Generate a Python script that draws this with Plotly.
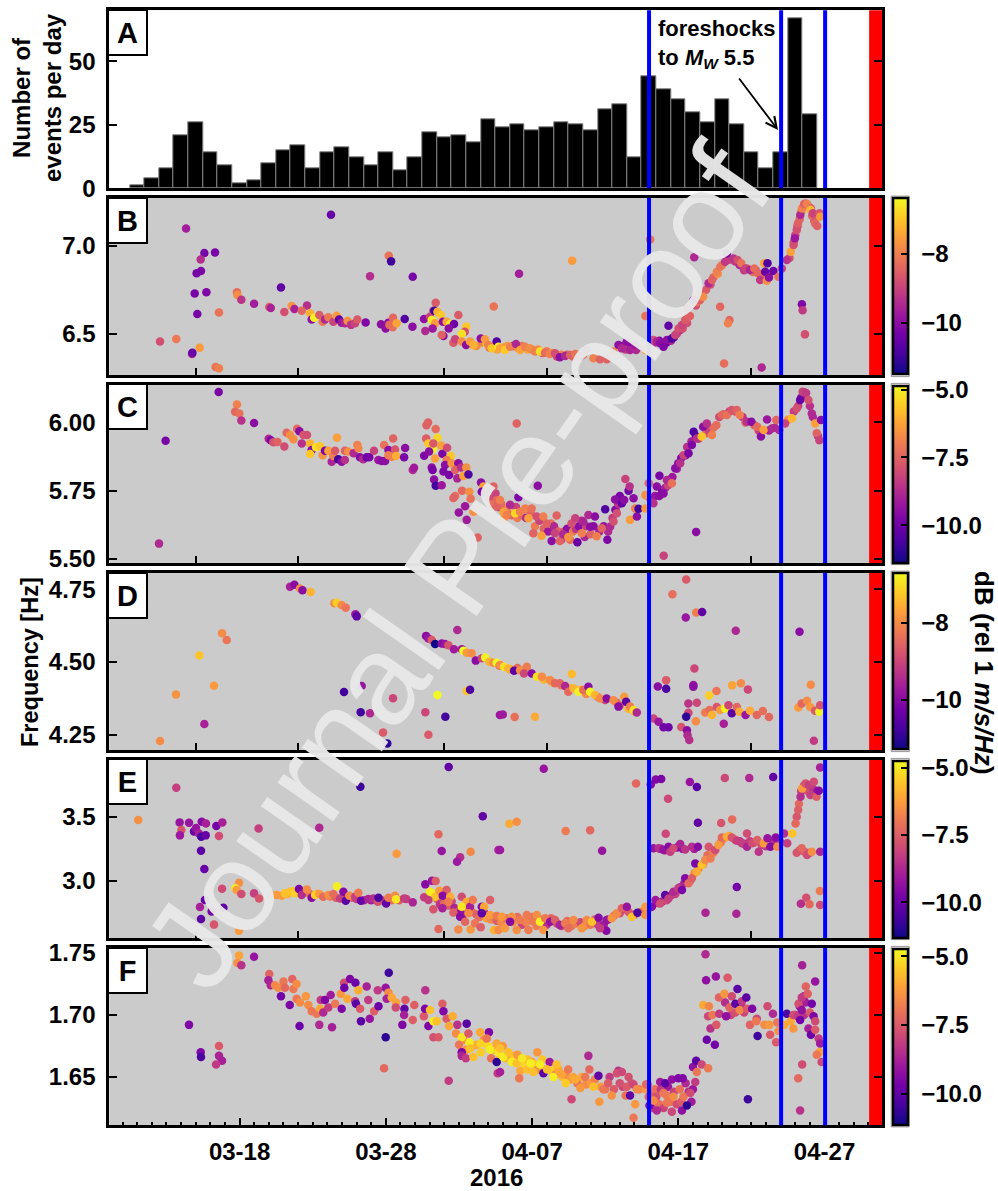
import plotly.graph_objects as go

# x values are day numbers counted from 1 March 2016 = 1 (so 1 April = 32)
bar_days = [11,12,13,14,15,16,17,18,19,20,21,22,23,24,25,26,27,28,29,30,31,32,33,34,35,36,37,38,39,40,41,42,43,44,45,46,47,48,49,50,51,52,53,54,55,56,57]
bar_counts = [1,4,8,21,26,14,9,2,3,10,15,17,8,14,16,12,9,14,7,12,22,20,21,18,27,24,25,23,24,26,25,23,31,33,12,44,39,35,30,26,35,25,14,8,14,67,29]
event_days = [46.0, 55.03, 58.04]
red_start = 61.05
major_days = [18,28,38,48,58]
major_labels = ["03-18","03-28","04-07","04-17","04-27"]
inner_ticks = [15,22,32,39,53]

b_day = [
33.9,34.2,34.6,34.9,35.1,35.4,35.6,36.0,36.3,36.7,
37,37.3,37.7,38,38.4,38.7,39,39.4,39.7,40,
40.4,40.8,41.1,41.5,44.2,44.4,44.8,45.2,46.4,46.7,
47,47.2,47.5,47.7,47.9,48.1,48.3,48.6,48.8,49.2,
49.3,49.6,49.9,50.2,50.4,50.7,51,51.5,51.9,52.2,
52.5,52.7,53.1,53.3,53.7,54,55.6,55.9,56,56.15,
56.3,56.4,56.55,56.7,56.95,57.15,57.3,
14.34,24.25,16.32,15.59,15.34,15.36,15.06,14.93,15.73,15.11,
16.59,12.56,13.67,15.27,14.75,14.77,16.36,16.59,17.82,17.85,
18.12,18.99,20.03,20.13,20.83,21.06,21.56,21.75,22.61,22.25,
22.82,22.93,23.1,23.45,23.68,23.84,24.07,24.41,24.64,24.8,
24.98,25.2,25.39,25.62,25.89,26.05,26.62,27.67,27.99,28.17,
28.24,28.47,28.49,28.74,28.2,28.36,26.92,29.84,29.29,29.82,
30.7,30.61,31.02,31.25,31.41,31.32,31.53,31.76,31.14,31.25,
31.37,31.2,31.9,32.16,32.4,32.66,32.3,31.94,31.82,32.96,
33.5,33.4,33.2,32.62,32.74,33.19,33.49,33.76,33.99,34.49,
34.78,35.38,35.01,35.24,35.58,35.7,40.74,37.11,35.81,36.15,
36.5,36.9,37.18,37.52,37.86,38.2,38.54,38.88,39.2,39.57,
39.9,40.26,40.6,40.95,41.7,41.28,42.2,42.65,43.11,43.57,
43.91,44.13,44.48,44.7,45.11,45.04,45.75,46.07,45.75,46.3,
46.54,46.76,46.99,47.22,47.33,47.56,47.79,48.02,48.25,48.47,
48.7,48.59,49.04,49.09,49.49,49.7,50.86,51.5,51.4,51.13,
53.7,50.07,50.3,50.63,50.87,51.2,51.32,51.77,52.05,52.3,
52.6,52.9,53.2,53.47,53.6,53.87,53.94,54.05,54.1,54.2,
54.5,54.85,55.08,55.42,55.69,55.88,55.97,56.1,56.18,56.34,
56.45,56.61,56.8,57.07,57.03,57.2,57.36,57.5,57.66,57.7,
56.45,56.5,56.66]
b_freq = [
6.44,6.43,6.45,6.44,6.42,6.43,6.41,6.42,6.43,6.43,
6.42,6.43,6.41,6.41,6.41,6.39,6.40,6.39,6.37,6.38,
6.38,6.37,6.38,6.38,6.43,6.41,6.43,6.42,6.45,6.46,
6.44,6.45,6.46,6.48,6.5,6.52,6.53,6.56,6.6,6.66,
6.68,6.72,6.75,6.78,6.82,6.84,6.89,6.92,6.91,6.89,
6.86,6.87,6.85,6.86,6.82,6.83,6.93,7.02,7.06,7.11,
7.15,7.19,7.22,7.24,7.22,7.17,7.14,
7.098,7.176,6.962,6.958,6.922,6.856,6.843,6.729,6.735,6.612,
6.621,6.455,6.47,6.42,6.384,6.392,6.311,6.303,6.735,6.72,
6.693,6.67,6.652,6.646,6.763,6.623,6.657,6.64,6.66,6.63,
6.616,6.58,6.59,6.606,6.568,6.58,6.593,6.568,6.602,6.58,
6.562,6.559,6.572,6.55,6.559,6.58,6.564,6.553,6.53,6.562,
6.55,6.536,6.591,6.559,6.943,6.911,6.826,6.824,6.583,6.54,
6.515,6.583,6.596,6.63,6.676,6.63,6.625,6.606,6.578,6.568,
6.559,6.53,6.568,6.568,6.555,6.555,6.53,6.487,6.492,6.606,
6.54,6.511,6.5,6.449,6.468,6.455,6.436,6.455,6.434,6.473,
6.468,6.655,6.436,6.417,6.455,6.426,6.915,6.841,6.417,6.407,
6.426,6.441,6.407,6.426,6.417,6.398,6.398,6.392,6.384,6.388,
6.366,6.373,6.379,6.384,6.407,6.369,6.36,6.354,6.354,6.398,
6.436,6.417,6.455,6.407,6.407,6.436,6.6,7.036,6.407,6.464,
6.455,6.445,6.426,6.464,6.545,6.473,6.492,6.53,6.549,6.578,
6.596,6.644,6.691,6.934,6.691,6.71,6.653,6.578,6.559,6.33,
6.307,6.786,6.805,6.852,6.881,6.909,6.956,6.928,6.919,6.9,
6.871,6.862,6.871,6.843,6.805,6.9,6.852,6.801,6.9,6.82,
6.856,6.824,6.871,6.919,6.966,7.004,7.042,7.089,7.127,7.174,
7.212,7.237,7.237,7.212,7.205,7.184,7.127,7.112,7.184,7.165,
6.667,6.633,6.496]
b_db = [
-7.5,-7.8,-8,-7,-8.3,-7.7,-7.5,-8,-7.6,-9.6,
-7.8,-8.2,-7.5,-8.2,-7.8,-8.6,-8,-7.8,-9,-8,
-8.6,-8.5,-7.7,-8.3,-10,-9.2,-10.2,-9.8,-9.5,-10.2,
-9.8,-10.7,-9.5,-10.4,-9,-9.3,-8.8,-8.8,-8.4,-8.8,
-8.2,-8.3,-8.6,-8.8,-8.4,-7.8,-8.1,-9,-9.2,-9.5,
-9.2,-8.3,-8.3,-8.9,-8.6,-8.3,-8.8,-8.7,-9,-8.9,
-8.4,-8,-8.3,-8.5,-9,-8.4,-8.6,
-9.7,-10.5,-10.3,-10.3,-9.4,-10.2,-10.3,-10.3,-10.2,-10.3,
-8.2,-8.8,-8.1,-7.6,-9.5,-10.5,-8.2,-8,-8.3,-7.8,
-9.3,-9.7,-8.6,-9.6,-10.6,-8.8,-7.7,-9.6,-9.4,-8.4,
-7.3,-10,-6.5,-8.6,-8.1,-9.5,-8.1,-9,-7.6,-10.6,
-9.8,-9.5,-7.8,-9.3,-9,-8.6,-10.2,-10,-10,-10,
-8.3,-8.3,-8.4,-7.5,-8.2,-11,-9.4,-10.3,-10.8,-10,
-9.5,-10,-9,-9,-8.6,-11,-7.3,-7,-6.5,-6.6,
-7.6,-9.8,-10,-7.5,-6.6,-10.4,-10,-10,-8.5,-8.6,
-7,-8.8,-6.7,-8.6,-9,-7.8,-10,-7.6,-7.3,-10,
-7.6,-8.2,-8,-7,-10.8,-6.6,-7.6,-9.7,-7.5,-7,
-8,-9.5,-7.5,-8,-7.8,-8,-6.7,-8.3,-8,-8.8,
-10,-9.5,-8.5,-8.2,-9.3,-9,-8,-8.5,-8.5,-8,
-10,-9.5,-10,-9.6,-9.5,-9.8,-8.2,-8.2,-7.5,-8.8,
-9.6,-10,-10.2,-10,-10.6,-10.8,-9,-8.8,-9,-8.6,
-8.5,-8.4,-10,-9.5,-8.5,-7.8,-8.4,-8.4,-8,-8.3,
-9.5,-9.5,-8.5,-8,-8.2,-9.2,-10.2,-9.3,-8.8,-8.2,
-9,-9.5,-8.3,-8.4,-9.2,-7.5,-10.5,-7.8,-10.8,-10,
-10.4,-8.2,-9,-9.3,-7.5,-8.8,-9.8,-8.8,-8.5,-9.5,
-8,-8.5,-8,-8.6,-7.2,-9,-8.4,-8.5,-8.7,-7.6,
-10.2,-9.2,-8.8]

c_day = [
34.9,35.1,35.3,35.5,35.7,35.9,36.1,36.3,36.6,36.9,
37,37.3,37.6,37.9,38.2,38.5,38.8,39.1,39.3,39.5,
39.8,40,40.2,40.4,40.6,40.8,41,41.2,41.4,41.6,
41.7,42,42.2,42.6,42.9,43.2,43.5,43.7,43.9,44,
44.6,45.9,46.1,46.4,46.7,46.9,47.1,47.3,47.4,47.6,
47.9,48,48.2,48.5,48.6,48.9,49.2,49.4,49.9,50.1,
50.4,50.8,51.1,51.5,51.9,52.4,52.6,53.2,53.5,54.2,
54.6,55.5,55.9,56.2,56.4,56.6,57,57.2,57.55,
12.94,12.49,16.57,17.82,17.69,17.98,18.12,18.99,19.99,20.13,
20.31,20.59,21.06,21.22,21.45,21.68,21.93,22.09,22.25,22.37,
22.61,22.82,22.93,22.82,23.23,23.5,23.68,23.84,24.07,24.3,
24.41,24.53,24.66,24.75,24.98,25.2,25.2,25.43,25.8,26.05,
26.12,26.23,26.46,26.7,26.87,27.19,27.49,27.72,27.95,27.88,
28.18,28.18,28.5,28.63,28.4,28.7,29.25,29.32,29.84,29.93,
30.62,30.76,30.78,30.89,31.41,31.53,31.2,30.91,31.25,30.96,
31.37,31.14,31.2,31.3,31.41,31.82,31.87,31.78,32.19,32.44,
32.16,32.05,31.94,32.33,32.5,32.96,32.74,33.15,33.5,32.89,
33.3,33.65,33.21,33.71,33.8,32.74,32.62,33.42,32.99,33.53,
33.99,34.28,34.51,34.67,34.56,35.36,35.58,35.58,38.39,36.95,
37.07,35.81,36.04,36.27,36.5,36.84,37.18,37.52,37.97,37.75,
38.09,38.31,38.65,38.77,39,39.68,39.34,39.57,39.9,40.14,
40.48,40.7,40.95,41.1,41.4,41.5,41.85,41.97,42.3,42.42,
42.77,43,43.15,43.34,43.57,43.8,43.68,44.14,44.3,44.38,
44.67,44.94,44.7,45.05,45.17,45.28,45.75,45.75,45.98,46.3,
46.53,46.71,46.99,47.22,47.56,47.79,48.13,48.36,48.7,48.93,
49.05,49.22,47,49.27,49.6,49.7,49.95,50.3,50.6,50.98,
51.32,51.66,52,52.2,52.7,53,53.4,53.65,53.83,54.07,
54.4,54.7,54.9,55.3,55.77,56.1,56.33,56.5,56.74,56.9,
57.13,57.36,57.47,57.65,57.76]
c_freq = [
5.74,5.72,5.7,5.74,5.69,5.7,5.65,5.68,5.66,5.69,
5.65,5.66,5.65,5.67,5.62,5.64,5.61,5.6,5.63,5.62,
5.6,5.57,5.6,5.61,5.57,5.6,5.61,5.62,5.64,5.58,
5.62,5.59,5.62,5.6,5.62,5.6,5.65,5.68,5.7,5.73,
5.75,5.73,5.72,5.73,5.73,5.75,5.76,5.77,5.79,5.8,
5.83,5.85,5.87,5.88,5.91,5.93,5.95,5.94,5.96,5.97,
5.98,6.02,6.03,6.04,6.04,6.02,6.0,5.99,5.97,5.97,
5.98,6.01,6.04,6.06,6.09,6.11,6.06,6.02,5.95,
5.933,5.556,6.111,6.066,6.039,6.033,6.007,5.998,5.94,5.935,
5.927,5.928,5.912,5.962,5.954,5.938,5.977,5.968,5.923,5.954,
5.954,5.923,5.899,5.884,5.909,5.913,5.88,5.896,5.896,5.856,
5.877,5.896,5.944,5.865,5.856,5.896,5.862,5.893,5.887,5.917,
5.905,5.872,5.865,5.872,5.872,5.896,5.862,5.859,5.859,5.917,
5.899,5.88,5.941,5.901,5.874,5.877,5.872,5.906,5.826,5.834,
5.878,5.941,5.99,6.0,5.976,5.944,5.902,5.923,5.923,5.893,
5.868,5.835,5.826,5.791,5.768,5.77,5.885,5.915,5.907,5.877,
5.862,5.844,5.82,5.807,5.85,5.85,5.826,5.835,5.835,5.795,
5.804,5.809,5.75,5.746,5.72,5.73,5.723,5.693,5.67,5.643,
5.673,5.578,5.78,5.765,5.746,5.765,5.716,5.691,5.768,5.996,
5.726,5.716,5.673,5.661,5.698,5.667,5.673,5.685,5.685,5.649,
5.594,5.655,5.585,5.655,5.63,5.659,5.566,5.594,5.566,5.59,
5.58,5.63,5.649,5.561,5.594,5.637,5.661,5.618,5.655,5.583,
5.612,5.682,5.57,5.618,5.637,5.667,5.718,5.704,5.716,5.793,
5.765,5.722,5.643,5.685,5.655,5.684,5.685,5.734,5.777,5.704,
5.765,5.805,5.74,5.789,5.777,5.832,5.85,5.88,5.887,5.917,
5.966,5.599,5.512,5.941,5.948,5.984,5.996,5.954,5.99,6.027,
6.027,6.045,6.045,6.027,6.002,6.002,5.984,5.948,5.972,6.011,
5.978,6.009,5.972,5.996,6.015,6.051,6.082,6.112,6.108,6.082,
6.033,5.996,5.96,5.935,6.009]
c_db = [
-7.5,-8,-7.2,-8.2,-10,-7.3,-6.5,-6.9,-7.5,-8.2,
-7,-7.3,-8.8,-7.5,-7,-8.2,-7.5,-9.2,-7.2,-8.8,
-7.5,-8.2,-7.9,-9.5,-7.2,-7,-8.5,-9.5,-8.8,-8.9,
-8.2,-7.5,-9.5,-9,-9.3,-8.8,-8.4,-9.7,-8.6,-9.8,
-10,-7,-8.2,-9.2,-9.5,-9.8,-9,-8.2,-8.4,-9.2,
-9,-9.5,-9.7,-9.5,-8.6,-9,-9.8,-8,-7.5,-8.2,
-7.3,-8,-7.5,-8.2,-7.8,-8.4,-7.6,-7.5,-8.2,-9,
-8.8,-6.6,-8.3,-8.2,-9.5,-8.5,-8.6,-8.8,-8.5,
-9.8,-8.8,-9.8,-6.9,-7.4,-7.2,-8.6,-9.5,-8.8,-9.7,
-7.8,-7.5,-8,-7.4,-6.6,-6.6,-7.4,-9.5,-8.6,-7.8,
-7.9,-6,-9.5,-5.6,-5.2,-5.6,-6.5,-9.7,-6.3,-8.9,
-6.9,-7.7,-6.3,-10.7,-9.5,-7.5,-8.6,-6.6,-8.8,-6.9,
-6.8,-9.5,-8.8,-10,-9.8,-8.2,-9.2,-9.5,-9.5,-7.2,
-9.5,-6.9,-7.5,-7.8,-6.9,-6.1,-9.8,-9.5,-8.8,-9.1,
-9.7,-7.6,-7.5,-7.5,-7.3,-5.4,-4.9,-5.6,-7.7,-9.5,
-6.3,-9.5,-9.8,-9.5,-10.7,-9.2,-9.8,-6.3,-8,-5.6,
-6.9,-9.5,-9.7,-9.8,-6.5,-9.5,-7.5,-8.6,-6.6,-8.9,
-6.3,-10.5,-7.4,-6.6,-7.2,-7.3,-7.5,-9.2,-9.3,-9.1,
-6.6,-7.5,-9.5,-6.3,-9.7,-7.5,-7.4,-7.5,-9.5,-7.5,
-9.7,-6.9,-6.3,-6.9,-8.8,-5.4,-6.9,-6.9,-7.2,-6.3,
-7.5,-7.9,-6.3,-6.9,-7.5,-7.5,-9.5,-8.2,-7.5,-8.8,
-6.5,-7.9,-8.2,-10.1,-6.9,-8.9,-8.8,-9.5,-9.5,-6.9,
-7.5,-10.5,-9.7,-8.8,-7.9,-7.9,-9.5,-10.1,-9.5,-8.2,
-8.6,-9.5,-6.4,-6.9,-9.5,-10.7,-6.4,-6.6,-7.5,-8.6,
-9.5,-9.8,-9.5,-8.8,-7.2,-9.5,-8.6,-8.2,-9.8,-9.7,
-10.5,-9.5,-8.2,-8.6,-5.6,-9.5,-8.6,-6.9,-7.3,-7.4,
-7.2,-7.8,-7.5,-6.9,-8.6,-9.5,-7.3,-9.5,-6.3,-9.2,
-8.8,-7.4,-8.8,-8.2,-5.9,-7.9,-10.1,-8.2,-8.4,-7.9,
-8.8,-6.3,-7.5,-8.2,-9.5]

d_day = [
36.5,37,38.8,39.4,40,40.6,41.3,41.7,42.5,43,
43.8,44,44.6,45,
12.56,13.65,15.25,15.59,16.25,16.8,17.12,21.45,21.75,22.13,
22.3,22.86,24.48,24.64,24.98,25.26,25.92,26.01,25.14,26.28,
26.92,28.49,27.81,28.1,26.35,30.75,30.91,31.14,31.37,31.82,
32.05,32.28,32.66,32.89,33.2,33.3,33.53,33.87,34.15,34.56,
34.79,35.08,35.36,35.58,35.77,31.53,33.53,33.76,30.7,32.07,
30.91,35.8,36,36.81,38.2,40.72,35.81,36.08,36.38,36.77,
37.18,37.64,37.45,37.98,38.33,38.67,39.24,39.57,39.9,40.26,
40.48,40.83,41.17,41.5,41.85,41.97,42.3,42.65,43.1,43.57,
43.91,44.3,44.43,44.7,44.94,45.16,46.3,46.65,46.99,47.33,
46.6,47.17,47.17,47.6,48.54,48.51,49.22,49.63,51.93,56.29,
49.1,49.03,49.03,50.61,50.11,51.68,52.28,52.76,57.06,48.69,
49.27,48.69,48.54,49.2,48.2,48.59,48.63,48.75,51.11,49.84,
50.13,50.3,50.63,50.85,51.2,51.43,51.66,52,52.18,52.6,
52.9,53.37,53.78,54.2,56.21,56.44,56.8,57.02,57.35,57.64,
57.7,57.27]
d_freq = [
4.475,4.48,4.44,4.43,4.42,4.41,4.405,4.39,4.38,4.37,
4.36,4.35,4.34,4.33,
4.229,4.389,4.523,4.287,4.419,4.599,4.576,4.759,4.766,4.753,
4.747,4.741,4.702,4.704,4.696,4.687,4.664,4.657,4.397,4.328,
4.324,4.376,4.258,4.22,4.418,4.59,4.581,4.576,4.562,4.564,
4.562,4.558,4.544,4.61,4.544,4.539,4.532,4.53,4.505,4.513,
4.516,4.501,4.498,4.498,4.487,4.387,4.401,4.405,4.328,4.312,
4.25,4.318,4.32,4.311,4.312,4.459,4.49,4.484,4.478,4.47,
4.472,4.484,4.461,4.461,4.45,4.45,4.438,4.427,4.427,4.418,
4.398,4.41,4.398,4.404,4.415,4.398,4.387,4.375,4.375,4.369,
4.347,4.381,4.364,4.347,4.335,4.327,4.306,4.295,4.276,4.276,
4.416,4.438,4.408,4.733,4.784,4.653,4.67,4.672,4.608,4.604,
4.478,4.421,4.415,4.401,4.385,4.42,4.427,4.406,4.422,4.358,
4.36,4.326,4.312,4.297,4.277,4.266,4.249,4.232,4.288,4.327,
4.335,4.318,4.346,4.335,4.341,4.352,4.324,4.346,4.329,4.318,
4.333,4.318,4.332,4.311,4.344,4.358,4.367,4.346,4.333,4.329,
4.352,4.23]
d_db = [
-8,-8.5,-7.5,-7.6,-8.2,-7.5,-7.5,-8,-8.3,-9,
-8.5,-8.5,-7.5,-7.6,
-8,-7.9,-7.3,-9.6,-7.8,-8,-8.3,-9.6,-10,-8,
-10,-7.5,-8,-7.2,-8,-8.3,-9.8,-10.5,-10.8,-10.8,
-9.5,-9,-8.7,-11,-9.8,-10,-9.8,-8.7,-11.5,-10,
-9.8,-8.8,-9.7,-9.5,-9.8,-6.5,-7.8,-8,-10,-9,
-6.8,-7.5,-8,-6.5,-8.3,-6.6,-7.3,-10.7,-9,-10.8,
-8.7,-9.8,-9.7,-8.4,-7.6,-7.4,-8,-7,-7.5,-10.5,
-8,-8.2,-9,-10,-7,-8,-8,-8.5,-8.5,-9.5,
-8.5,-7.5,-6.8,-8.4,-10,-6.8,-7.5,-8,-10,-8,
-10,-7.8,-10.5,-8.2,-7,-9.5,-9,-9.8,-10.3,-10.3,
-10,-8.7,-10.7,-8.4,-8.7,-9.8,-8.2,-10.5,-9.5,-10,
-9,-9.8,-10,-8.3,-7.2,-7.7,-8,-9,-8,-9.3,
-9,-9,-11,-8,-8.8,-10,-9.5,-9.4,-9.6,-8.2,
-8.4,-7.5,-8.8,-7.8,-6.8,-9,-10.5,-8.5,-7.6,-9.8,
-7.6,-8.5,-8.4,-8.5,-7.8,-8.5,-8,-7.8,-8.7,-6.8,
-8.8,-9.2]

e_day = [
20.2,21.3,21.6,22.4,22.8,23.3,24.2,24.6,25.3,25.7,
26,26.5,27,27.7,28.4,28.9,29.4,31.5,31.7,32,
32.3,32.5,32.7,32.9,33.1,33.3,33.6,33.9,34.2,34.4,
34.7,34.9,35.2,35.4,35.6,35.9,36.2,36.7,37,37.3,
37.6,38,38.3,38.6,39,39.3,39.7,40,40.4,40.7,
41,41.3,41.6,42,42.3,42.5,42.9,43.2,43.6,44,
44.3,44.6,45,45.4,46,46.6,46.9,47.2,47.5,47.8,
48.1,48.4,48.8,49.1,49.4,49.7,50,50.4,50.9,51.1,
51.5,51.9,52.2,52.5,52.9,53.2,53.7,54,54.5,55,
56.1,56.25,56.4,56.6,56.85,57.2,57.5,46.8,47.1,47.9,
48.3,49.1,56.3,56.6,57,
11.07,13.67,13.9,14.54,14.02,13.92,14.88,15.02,15.41,15.7,
15.22,15.38,15.68,16.41,16.82,16.59,15.36,15.59,15.63,15.29,
16.09,16.89,15.36,16.25,16.8,17.96,17.96,17.71,17.8,18.12,
18.99,19.33,19.3,23.45,26.26,32.3,34.63,31.6,31.82,28.74,
33.08,32.87,33.8,35.7,20.54,20.88,21.1,21.45,21.79,22.06,
22.25,22.6,22.93,23.16,23.45,23.72,24.07,24.41,24.66,24.87,
25.1,25.26,25.5,25.9,26.12,26.3,26.8,27.15,27.45,27.5,
28.02,28.18,28.63,28.7,29.25,29.84,30.62,30.7,31.02,31.16,
31.41,31.18,31.37,30.91,31.25,31.66,31.87,32.16,31.89,32.4,
32.28,32.62,31.6,32.96,33.19,33.08,33.53,33.19,33.42,33.76,
33.95,33.65,33.8,34.1,34.49,34.56,34.72,34.56,35.13,35.13,
35.4,35.58,35.7,38.8,36.45,36.95,40.3,41.97,42.79,35.81,
45.11,46.12,46.46,46.83,48.79,49.27,47.3,49.34,47.14,50.93,
51.68,51.18,52.85,54.49,57.7,52,49.86,51.97,43.08,56.38,
56.75,56.97,57.68,57.7,46.3,46.65,46.99,47.33,47.45,47.67,
48.13,48.47,48.93,49.34,50.08,35.93,36.15,36.61,36.5,36.95,
37.18,37.64,37.75,38.09,38.33,38.54,38.77,38.9,39.24,39.57,
39.9,40.26,40.48,40.83,41.4,41.75,42.1,42.55,42.65,43.1,
43.45,43.8,44.14,44.48,44.83,45.21,45.75,45.75,46.19,46.44,
46.76,47.1,47.33,47.67,48,48.25,48.47,48.7,48.93,49.16,
49.27,49.6,49.84,50.2,50.53,50.75,50.98,51.32,51.66,52,
52.35,52.7,52.7,53.05,53.4,53.5,53.85,54.1,54.3,54.66,
54.77,55.23,55.45,55.8,56.02,56.2,56.36,56.47,56.7,56.93,
57.27,57.04,57.45,57.61,56.1,56.44,56.8,57.13,57.7]
e_freq = [
2.89,2.9,2.92,2.91,2.9,2.9,2.88,2.87,2.88,2.87,
2.86,2.85,2.85,2.85,2.85,2.85,2.86,2.86,2.82,2.83,
2.81,2.84,2.79,2.76,2.75,2.74,2.79,2.76,2.74,2.72,
2.76,2.71,2.7,2.72,2.69,2.68,2.71,2.68,2.72,2.66,
2.68,2.72,2.65,2.7,2.66,2.71,2.67,2.65,2.69,2.65,
2.67,2.68,2.65,2.66,2.7,2.66,2.66,2.7,2.73,2.75,
2.78,2.76,2.74,2.76,2.79,2.83,2.84,2.85,2.89,2.9,
2.95,2.98,3.0,3.06,3.1,3.13,3.2,3.22,3.3,3.33,
3.35,3.32,3.31,3.29,3.31,3.3,3.28,3.27,3.3,3.3,
3.5,3.6,3.7,3.74,3.7,3.72,3.7,3.25,3.24,3.26,
3.25,3.25,3.24,3.23,3.22,
3.474,3.725,3.456,3.453,3.396,3.355,3.386,3.412,3.461,3.448,
3.37,3.345,3.355,3.427,3.456,3.35,3.236,3.093,2.852,2.798,
2.764,2.793,2.705,2.661,2.94,2.614,2.987,2.943,2.93,2.899,
2.904,2.865,3.409,3.415,3.733,3.886,3.503,3.363,3.233,3.212,
3.184,3.15,3.228,3.241,2.891,2.886,2.904,2.917,2.904,2.938,
2.891,2.935,2.87,2.891,2.899,2.878,2.891,2.899,2.959,2.865,
2.917,2.847,2.886,2.878,2.909,2.847,2.86,2.865,2.839,2.87,
2.826,2.87,2.886,2.858,2.865,2.834,2.873,2.974,2.917,3.003,
3.0,2.904,2.878,2.852,2.78,2.925,2.788,2.93,2.886,2.878,
2.839,2.756,2.627,2.624,2.878,2.723,2.839,2.8,2.684,2.8,
2.852,2.749,2.624,2.671,2.64,2.8,2.8,2.749,2.852,2.736,
2.619,2.728,2.619,3.873,3.446,3.461,3.389,3.394,3.236,3.241,
3.759,3.751,3.79,3.793,3.77,3.731,3.64,3.453,3.368,3.451,
3.479,3.801,3.801,3.808,3.883,2.953,2.754,2.746,2.614,2.824,
2.87,2.819,2.922,2.813,3.254,3.254,3.241,3.267,3.228,3.254,
3.288,3.246,3.267,3.267,3.267,2.723,2.632,2.723,2.684,2.619,
2.697,2.736,2.619,2.684,2.736,2.684,2.619,2.71,2.684,2.697,
2.658,2.671,2.632,2.697,2.632,2.697,2.684,2.715,2.632,2.697,
2.71,2.749,2.788,2.8,2.723,2.754,2.8,2.736,2.8,2.852,
2.826,2.891,2.865,2.917,2.943,2.93,3.021,2.982,3.021,3.137,
3.073,3.124,3.163,3.176,3.241,3.28,3.339,3.345,3.339,3.313,
3.293,3.37,3.267,3.293,3.319,3.228,3.293,3.332,3.267,3.339,
3.267,3.37,3.293,3.37,3.448,3.552,3.655,3.72,3.759,3.746,
3.772,3.668,3.655,3.702,3.22,3.254,3.202,3.228,3.228]
e_db = [
-6.5,-6,-5.5,-6.9,-7.2,-6.3,-6.9,-7.5,-8,-7.5,
-8.3,-8.8,-9,-8.5,-7,-7.5,-8.2,-7.2,-8.4,-7.3,
-7.5,-8,-8.8,-8,-9.5,-9.2,-6.6,-7,-7.5,-7.2,
-8.5,-6.3,-6.6,-6.9,-7.5,-6.6,-7,-6.5,-7.2,-8,
-6.8,-7,-6.9,-6.6,-8.5,-7.3,-7.9,-8.2,-7.2,-7,
-6.9,-8,-6.5,-7,-7.8,-8.2,-9,-8.8,-7,-7.7,
-8.2,-7.6,-8,-7,-9,-8.6,-8.8,-8,-8.8,-8.2,
-9.5,-8.8,-7.5,-6.5,-6.9,-6.5,-7.2,-6.9,-6.9,-6.8,
-6.3,-7.5,-8.6,-8.8,-8.2,-7.5,-7.9,-8.4,-8.6,-8.4,
-7.7,-7.3,-8.2,-8.6,-7.8,-8.4,-9,-9.5,-9,-9.7,
-9.3,-9,-7.7,-7.5,-8.2,
-6.5,-8.2,-9.2,-9.2,-7.7,-9.1,-10,-9.2,-9.5,-8.9,
-8.9,-10.5,-10,-9.8,-8.9,-7.9,-10.2,-10,-10,-8.9,
-9.8,-10.2,-10.2,-7.7,-7.9,-6.3,-6.5,-5,-6.3,-7.9,
-8.2,-7.7,-8.2,-8.7,-10.7,-10.1,-10.1,-7.3,-9.2,-6.3,
-8.6,-9.1,-6.6,-8.9,-6.3,-6.3,-5.6,-5.6,-5.4,-9.7,
-8.6,-6.6,-9.5,-5.4,-6.3,-7.2,-6.5,-7.2,-4.9,-8.2,
-9.5,-10.2,-6.6,-8.2,-6.9,-10,-8.8,-8.6,-7.8,-10.5,
-10.1,-6.9,-6.6,-5,-8.2,-8.8,-8.2,-9.5,-5,-9.2,
-7.5,-4.9,-5.6,-8.2,-7.7,-6.3,-8.9,-7.5,-9.5,-6,
-6.9,-7.5,-7.3,-6.6,-7.9,-9.5,-6,-5,-7.3,-8.9,
-6.9,-6.6,-6.3,-7,-7.5,-9.5,-6.1,-10.2,-7.5,-6.3,
-5.9,-6.9,-6.6,-9.2,-6,-6.5,-6.9,-7.3,-9.2,-9.1,
-7.3,-9.5,-9.6,-9.7,-9.2,-10.2,-8,-10.1,-8,-7.7,
-7.2,-8,-8.7,-10.1,-8.9,-9.8,-8.8,-8.8,-9.5,-8.6,
-7.8,-7.3,-6.9,-7.9,-9.2,-8.6,-9.2,-9.5,-8.2,-7.9,
-8.8,-8.4,-8.6,-9.5,-7.7,-6.3,-6.3,-6.5,-9.5,-6.5,
-6.9,-6.9,-6.9,-6.9,-6.5,-4.9,-6.4,-6.9,-9.3,-7.5,
-8.9,-6.9,-7.2,-6.6,-6.4,-6.6,-5.6,-9.5,-8.2,-9.2,
-6.4,-6.6,-7.4,-9.2,-5.6,-10.5,-6.3,-6.5,-9.5,-9.1,
-7.9,-10.2,-8.2,-8.7,-8.2,-9.7,-9.5,-7.2,-7.5,-9.7,
-6,-5.6,-6.6,-6.9,-7.9,-6.3,-7.3,-6,-7.7,-8.2,
-8.2,-7.9,-8.8,-7.9,-7.5,-8.4,-6.3,-9.2,-9.5,-9.5,
-6.6,-8.6,-8.2,-5.6,-7.3,-7.5,-8.6,-6.3,-7.7,-8.2,
-7.9,-8.2,-7.5,-9.5,-7.7,-7.3,-7.9,-6.5,-8.8]

f_day = [
33.3,33.5,33.9,34.2,34.5,34.7,35,35.2,35.4,35.8,
36,36.2,36.5,36.8,37,37.2,37.5,37.7,38,38.2,
38.4,38.7,39,39.3,39.6,39.8,40.1,40.3,40.6,40.8,
41.1,41.4,41.7,42,42.3,42.7,43,43.3,43.6,43.9,
44.2,44.4,44.8,45.3,45.9,46.1,46.2,46.4,46.5,46.7,
46.8,47,47.2,47.3,47.5,47.7,47.9,48.1,48.2,48.5,
48.7,48.9,49,51.2,51.6,51.9,52.3,52.5,56,56.3,
56.6,56.7,56.6,57,
14.54,15.34,15.36,16.59,16.59,16.8,16.39,17.96,17.85,18.12,
18.99,20.03,19.97,20.13,20.42,20.83,20.65,21,21.1,21.43,
21.6,21.68,21.9,21.9,22.1,22.13,22.53,22.7,22.93,23.45,
23.27,23.55,23.5,23.72,23.84,24.23,24.07,24.32,24.53,24.92,
24.98,25.14,25.16,25.37,25.55,25.92,25.9,25.96,26.12,26.24,
26.3,26.8,26.69,26.9,27.2,27.45,27.5,27.99,28.2,27.99,
27.88,28.18,28.06,28.4,28.7,28.68,29.27,29.25,29.34,29.13,
29.95,29.84,30.7,30.6,30.68,31.02,30.91,31.25,31.48,31.25,
31.6,31.87,31.94,32.16,32.33,32.57,32.3,32.89,33.53,32.8,
33.19,33.65,33.01,33.72,33.19,33.19,33.47,33.99,33.76,34.45,
34.49,35.05,34.9,35.13,35.58,35.58,35.65,35.7,35.81,35.81,
36.04,36.38,36.61,36.95,37.12,37.32,37.66,37.89,38.1,38.36,
38.55,38.78,39.2,39.03,39.46,39.68,40.03,40.3,40.47,40.7,
40.95,41.3,41.63,41.85,41.92,42.2,42.54,42.6,42.88,43.2,
43.45,43.8,44,44.14,44.48,44.7,44.6,44.94,45.05,44.94,
45.17,45.75,45.8,45.98,46.03,46.3,46.53,46.76,46.99,47.1,
47.22,47.56,47.56,47.67,48,48.25,48.36,48.3,48.59,48.82,
49.16,49,49.22,49.27,49.6,50.04,49.86,49.9,50.57,51.37,
49.95,50.5,49.7,50.1,50.04,50.33,50.2,50.6,50.8,50.78,
51.15,51.27,51.5,51.66,51.9,52.05,52.2,52.35,52.65,52.7,
53.05,52.9,53.37,53.33,53.42,52.76,53.89,54.23,54.28,54.1,
54.47,54.69,54.85,54.77,55.25,55.42,55.69,55.87,55.87,56.17,
56.22,56.33,56.44,56.44,56.47,56.72,56.85,56.9,57.13,57.25,
57.36,57.07,57.36,57.36,57.6,57.7,57.66,57.47,57.8,56.47,
56.2,56.33]
f_freq = [
1.68,1.672,1.675,1.676,1.67,1.68,1.675,1.665,1.672,1.668,
1.675,1.665,1.668,1.665,1.668,1.655,1.66,1.664,1.662,1.66,
1.656,1.664,1.656,1.655,1.652,1.656,1.65,1.652,1.648,1.65,
1.645,1.65,1.644,1.645,1.648,1.642,1.64,1.65,1.64,1.655,
1.642,1.635,1.645,1.64,1.644,1.638,1.625,1.64,1.634,1.628,
1.64,1.625,1.635,1.642,1.63,1.638,1.628,1.64,1.63,1.645,
1.638,1.63,1.64,1.71,1.7,1.702,1.708,1.702,1.70,1.707,
1.7,1.71,1.715,1.702,
1.692,1.67,1.666,1.675,1.667,1.663,1.66,1.748,1.742,1.74,
1.747,1.733,1.728,1.724,1.724,1.715,1.722,1.727,1.722,1.708,
1.729,1.721,1.725,1.713,1.691,1.71,1.715,1.708,1.703,1.692,
1.701,1.712,1.705,1.702,1.712,1.716,1.706,1.69,1.709,1.717,
1.705,1.726,1.722,1.713,1.729,1.726,1.711,1.709,1.72,1.705,
1.695,1.712,1.723,1.697,1.703,1.72,1.707,1.722,1.734,1.682,
1.657,1.718,1.713,1.714,1.71,1.706,1.705,1.7,1.712,1.692,
1.708,1.696,1.72,1.699,1.705,1.704,1.691,1.695,1.695,1.682,
1.682,1.709,1.703,1.697,1.691,1.699,1.647,1.692,1.693,1.685,
1.682,1.685,1.676,1.678,1.67,1.667,1.665,1.666,1.673,1.686,
1.677,1.686,1.681,1.672,1.677,1.662,1.653,1.67,1.673,1.654,
1.666,1.67,1.662,1.661,1.649,1.665,1.656,1.661,1.654,1.67,
1.66,1.653,1.662,1.656,1.65,1.66,1.652,1.645,1.656,1.632,
1.648,1.641,1.65,1.667,1.656,1.642,1.651,1.63,1.64,1.645,
1.635,1.653,1.645,1.654,1.642,1.635,1.65,1.617,1.628,1.644,
1.64,1.64,1.644,1.634,1.627,1.631,1.623,1.646,1.637,1.645,
1.629,1.622,1.648,1.634,1.649,1.623,1.634,1.649,1.627,1.637,
1.646,1.658,1.663,1.654,1.66,1.657,1.749,1.728,1.731,1.73,
1.68,1.676,1.708,1.707,1.699,1.7,1.689,1.692,1.701,1.714,
1.717,1.699,1.706,1.715,1.709,1.721,1.704,1.711,1.714,1.705,
1.705,1.692,1.697,1.695,1.683,1.632,1.692,1.692,1.684,1.707,
1.701,1.678,1.687,1.694,1.692,1.701,1.695,1.689,1.7,1.699,
1.709,1.696,1.704,1.714,1.74,1.723,1.717,1.689,1.709,1.699,
1.727,1.684,1.688,1.695,1.681,1.677,1.67,1.668,1.662,1.66,
1.649,1.623]
f_db = [
-6.5,-6.3,-6.6,-5.9,-5.4,-6.5,-5.2,-7,-5.9,-5.5,
-6.3,-5.8,-6,-5.4,-6.3,-6,-5.3,-5.6,-6.1,-5.4,
-6.5,-5.5,-6.3,-5.4,-6.6,-6,-5.7,-6.5,-6.3,-6.1,
-6.9,-6,-6.5,-6.3,-6.7,-6.3,-7,-8.2,-7.5,-8.4,
-8,-7,-7.8,-7,-8,-7.3,-8.2,-7,-7.7,-7,
-8.2,-8,-6.8,-9,-7,-8,-7.8,-7,-7.5,-8.6,
-8.4,-8.9,-9,-8.5,-8,-7.7,-8.5,-7.9,-8.2,-9,
-8.4,-8.8,-8.9,-7.5,
-9.5,-9.5,-10.3,-7.5,-8.7,-8.8,-8.2,-6.1,-6.4,-8.4,
-9.1,-7.3,-8.8,-8.7,-6.6,-9.7,-6.5,-6.9,-7.2,-9.5,
-7.3,-6.9,-6.5,-6.9,-9.8,-6.5,-6.3,-6.5,-6.9,-8.6,
-6.9,-8.2,-6.1,-8.6,-9.5,-8.9,-8.2,-8.8,-6.9,-6.3,
-9.5,-7.8,-9.8,-6,-9.5,-9.8,-8.2,-10.1,-5.9,-7.5,
-10.1,-8.2,-8.8,-9.1,-7.4,-8.2,-9.8,-9.1,-10.5,-10.7,
-7.2,-6.5,-8.8,-6,-6.1,-7.8,-10,-8.8,-7.4,-9.5,
-7.4,-7.4,-8.4,-7.5,-9.5,-5.6,-9.5,-4.9,-5.6,-7.7,
-7.5,-7.4,-9.5,-7.5,-6,-5.9,-8.2,-8.4,-10.1,-6.5,
-5,-7.5,-6.9,-4.9,-9.5,-8.7,-8.2,-5.6,-5.6,-6,
-5.3,-9.5,-6.9,-4.9,-6,-10.7,-8.2,-5,-5.6,-8.8,
-4.9,-5.6,-4.9,-5.6,-6.9,-5,-5.6,-4.9,-5.6,-6.3,
-4.9,-10.1,-8.9,-5.6,-4.9,-5.6,-6.1,-5.4,-6.9,-7.9,
-6,-6.3,-6.9,-8.6,-7.2,-5.6,-10,-6.3,-6.9,-7.5,
-6.4,-7.7,-7.7,-7.9,-7.5,-10,-7.7,-6.9,-6.3,-7.9,
-6.5,-6.3,-7.2,-7.5,-9.5,-6.5,-8.6,-8.9,-6.9,-10.1,
-6.9,-7.9,-9.2,-6.5,-9.5,-9.2,-6.9,-9.5,-10.7,-7.8,
-8.2,-9.2,-10.1,-6.9,-7.9,-6.9,-8.6,-9.2,-9.1,-7.5,
-9.8,-9.7,-6,-6.6,-7.9,-6.9,-8.4,-7.5,-8.2,-7.3,
-6.3,-9.2,-7.3,-7.8,-10.1,-10.1,-6.6,-8.2,-10.1,-7.5,
-9.5,-7.3,-7.9,-6.9,-10.5,-10.5,-6.5,-6.3,-7.5,-7.8,
-8.6,-7.5,-6.4,-6.9,-6,-10.3,-6,-6.3,-7.8,-8.2,
-7.7,-9.7,-9.2,-8.2,-8.8,-7.3,-7.4,-8.8,-9.7,-9.5,
-9.1,-9.8,-7.5,-7.8,-8.2,-8.9,-6.1,-6.9,-7.9,-7.8,
-7.2,-8.4]

days = [b_day, c_day, d_day, e_day, f_day]
freqs = [b_freq, c_freq, d_freq, e_freq, f_freq]
dbs = [b_db, c_db, d_db, e_db, f_db]
for a, b, c in zip(days, freqs, dbs):
    assert len(a) == len(b) == len(c), (len(a), len(b), len(c))

W, H = 998, 1191
FONT = "Liberation Sans"
def fy(py): return 1 - py / H
def fx(px): return px / W

panel_edges = [(10.3,188.3),(197.7,375),(385,563),(572.7,750),(760,938),(948,1125.3)]
y_ranges = [[0,70],[6.265,7.273],[5.485,6.137],[4.198,4.807],[2.557,3.941],[1.611,1.754]]
y_ticks = [[0,25,50],[6.5,7.0],[5.5,5.75,6.0],[4.25,4.5,4.75],[3.0,3.5],[1.65,1.7,1.75]]
y_labels = [["0","25","50"],["6.5","7.0"],["5.50","5.75","6.00"],["4.25","4.50","4.75"],["3.0","3.5"],["1.65","1.70","1.75"]]
cb_ranges = [(-11.5,-6.4),(-11.37,-4.85),(-11.29,-6.72),(-11.3,-4.74),(-11.13,-4.72)]
cb_ticks = [[-8,-10],[-5,-7.5,-10],[-8,-10],[-5,-7.5,-10],[-5,-7.5,-10]]
cb_labels = [["\u22128","\u221210"],["\u22125.0","\u22127.5","\u221210.0"],["\u22128","\u221210"],["\u22125.0","\u22127.5","\u221210.0"],["\u22125.0","\u22127.5","\u221210.0"]]
letters = ["A","B","C","D","E","F"]
letter_tops = [9,196.7,383.3,571.7,758.3,946.7]
X_RANGE = [9.09, 61.95]
tick_font = dict(family=FONT, size=24, color="black", weight="bold")

fig = go.Figure()
fig.add_trace(go.Bar(x=bar_days, y=bar_counts, width=1, xaxis="x", yaxis="y", showlegend=False,
                     marker=dict(color="black", line=dict(color="#808080", width=1))))
for i in range(5):
    n = i + 2
    top, bottom = panel_edges[i+1]
    lo, hi = cb_ranges[i]
    fig.add_trace(go.Scatter(
        x=days[i], y=freqs[i], mode="markers", xaxis=f"x{n}", yaxis=f"y{n}", showlegend=False,
        marker=dict(size=8.5, color=dbs[i], colorscale="Plasma", cmin=lo, cmax=hi, line=dict(width=0),
            colorbar=dict(x=fx(893), xanchor="left", xpad=0, ypad=0, y=fy((top+bottom)/2), yanchor="middle",
                lenmode="pixels", len=bottom-top-1, thicknessmode="pixels", thickness=15,
                outlinecolor="black", outlinewidth=2.5, borderwidth=0,
                ticks="inside", ticklen=8, tickwidth=2, tickcolor="black",
                tickmode="array", tickvals=cb_ticks[i],
                ticktext=["\u00a0" + t for t in cb_labels[i]], tickfont=tick_font)),
    ))

layout = dict(width=W, height=H, margin=dict(l=0,r=0,t=0,b=0,autoexpand=False), paper_bgcolor="white",
              plot_bgcolor="#cbcbcb", bargap=0, showlegend=False)
shapes, annotations = [], []
for k in range(6):
    s = "" if k == 0 else str(k+1)
    top, bottom = panel_edges[k]
    xa = dict(domain=[fx(109.3), fx(882.3)], range=X_RANGE, anchor=f"y{s}", showgrid=False, zeroline=False,
              showline=True, linecolor="black", linewidth=3, mirror=True, layer="above traces")
    if k == 0:
        xa.update(ticks="", showticklabels=False)
    elif k < 5:
        xa.update(tickmode="array", tickvals=inner_ticks, ticks="inside", ticklen=7, tickwidth=2,
                  tickcolor="black", showticklabels=False)
    else:
        xa.update(tickmode="array", tickvals=major_days, ticktext=major_labels, ticks="inside", ticklen=7,
                  tickwidth=2, tickcolor="black", tickfont=tick_font, ticklabelstandoff=3,
                  minor=dict(ticks="inside", ticklen=3, tickwidth=1.5, tickcolor="black", dtick=1, tick0=0))
    ya = dict(domain=[fy(bottom), fy(top)], range=y_ranges[k], anchor=f"x{s}", showgrid=False, zeroline=False,
              showline=True, linecolor="black", linewidth=3, mirror="allticks", layer="above traces",
              tickmode="array", tickvals=y_ticks[k], ticktext=y_labels[k], ticks="inside", ticklen=8,
              tickwidth=2, tickcolor="black", tickfont=tick_font, ticklabelstandoff=6)
    layout[f"xaxis{s}"] = xa
    layout[f"yaxis{s}"] = ya
    xref, yref = f"x{s}", f"y{s} domain"
    if k == 0:
        shapes.append(dict(type="rect", xref="x domain", yref="y domain", x0=0, x1=1, y0=0, y1=1,
                           fillcolor="white", line=dict(width=0), layer="below"))
    else:
        shapes.append(dict(type="rect", xref="paper", yref="paper", x0=fx(891.2), x1=fx(909.2), y0=fy(bottom+1.6), y1=fy(top-1.6),
                           fillcolor="rgba(0,0,0,0)", line=dict(color="#999999", width=1), layer="below"))
    shapes.append(dict(type="rect", xref=xref, yref=yref, x0=red_start, x1=X_RANGE[1], y0=0, y1=1,
                       fillcolor="#ff0000", line=dict(width=0), layer="below"))
    for d in event_days:
        shapes.append(dict(type="line", xref=xref, yref=yref, x0=d, x1=d, y0=0, y1=1,
                           line=dict(color="#0000ff", width=4), layer="above"))
    annotations.append(dict(text=f"<b>{letters[k]}</b>", xref="paper", yref="paper", x=fx(107), y=fy(letter_tops[k]),
                            xanchor="left", yanchor="top", showarrow=False, width=37, height=43,
                            align="center", valign="middle", bgcolor="white", bordercolor="black",
                            borderwidth=2, borderpad=0, font=dict(family=FONT, size=29, color="black")))

def label(text, px, py, angle=0, size=22, **kw):
    d = dict(text=text, xref="paper", yref="paper", x=fx(px), y=fy(py), showarrow=False, textangle=angle,
             xanchor="center", yanchor="middle",
             font=dict(family=FONT, size=size, color="black", weight="bold"))
    d.update(kw)
    annotations.append(d)

label("Number of<br>events per day", 37, 98, angle=-90, size=24)
label("Frequency [Hz]", 30, 662, angle=-90, size=23.5)
label("dB (rel 1 <i>m/s/Hz</i>)", 984, 673, angle=90, size=26)
label("2016", 496, 1177, size=24)
label("foreshocks<br>to <i>M<sub>W</sub></i> 5.5", 656, 14, size=22, xanchor="left", yanchor="top", align="left")
annotations.append(dict(text="", xref="paper", yref="paper", x=fx(778), y=fy(130), ax=-40, ay=-53,
                        showarrow=True, arrowhead=5, arrowsize=1.2, arrowwidth=1.8, arrowcolor="black"))
annotations.append(dict(text="Journal Pre-proof", xref="paper", yref="paper", x=fx(456), y=fy(567), showarrow=False,
                        textangle=-55, xanchor="center", yanchor="middle",
                        font=dict(family=FONT, size=128, color="rgba(231,231,231,0.97)")))
layout["shapes"] = shapes
layout["annotations"] = annotations
fig.update_layout(**layout)
fig.write_html("out.html", config=dict(displayModeBar=False),
               post_script="document.body.style.margin='0';document.documentElement.style.overflow='hidden';")
